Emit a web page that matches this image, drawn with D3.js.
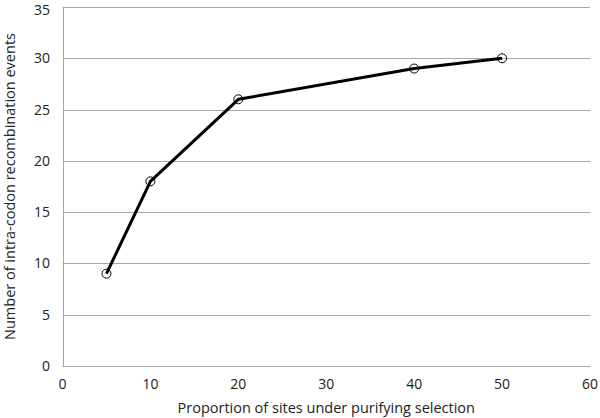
<!DOCTYPE html>
<html lang="en">
<head>
    <meta charset="UTF-8">
    <title>Intra-codon recombination</title>
    <script src="https://d3js.org/d3.v7.min.js"></script>
    <style>
        * { margin: 0; padding: 0; box-sizing: border-box; }
        html, body { width: 600px; height: 418px; background: #fff; overflow: clip; }
        svg { display: block; }
        text { font-family: "Open Sans", "Noto Sans", sans-serif; fill: #222; }
    </style>
</head>
<body>
<svg id="chart" width="600" height="418"></svg>
<script>
    const proportion = [5, 10, 20, 40, 50]
    const events = [9, 18, 26, 29, 30]
    const xTicks = [0, 10, 20, 30, 40, 50, 60]
    const yTicks = [0, 5, 10, 15, 20, 25, 30, 35]

    const xLabel = "Proportion of sites under purifying selection"
    const yLabel = "Number of intra-codon recombination events"

    const m = { left: 62.5, right: 10, top: 7, bottom: 52 }
    const W = 600, H = 418
    const svg = d3.select("#chart")

    const x = d3.scaleLinear().domain([0, 60]).range([m.left, W - m.right])
    const y = d3.scaleLinear().domain([0, 35]).range([H - m.bottom, m.top])

    // horizontal gridlines
    svg.append("g")
        .selectAll("line")
        .data(yTicks.filter(t => t > 0))
        .join("line")
        .attr("x1", x(0)).attr("x2", x(60))
        .attr("y1", d => Math.round(y(d)) + 0.5)
        .attr("y2", d => Math.round(y(d)) + 0.5)
        .attr("stroke", "#a6a6a6")
        .attr("stroke-width", 1)

    // axes lines
    svg.append("line")
        .attr("x1", x(0)).attr("x2", x(60))
        .attr("y1", Math.round(y(0)) + 0.5).attr("y2", Math.round(y(0)) + 0.5)
        .attr("stroke", "#a6a6a6")
    svg.append("line")
        .attr("x1", Math.round(x(0)) + 0.5).attr("x2", Math.round(x(0)) + 0.5)
        .attr("y1", y(0)).attr("y2", y(35))
        .attr("stroke", "#a6a6a6")

    // tick labels (top one nudged down so it stays inside the frame)
    svg.append("g")
        .selectAll("text")
        .data(yTicks)
        .join("text")
        .attr("x", 50)
        .attr("y", d => Math.max(y(d) + 5, 15))
        .attr("text-anchor", "end")
        .style("font-size", "14px")
        .text(d => d)
    svg.append("g")
        .selectAll("text")
        .data(xTicks)
        .join("text")
        .attr("x", d => x(d))
        .attr("y", 389)
        .attr("text-anchor", "middle")
        .style("font-size", "14px")
        .text(d => d)

    // axis titles
    svg.append("text")
        .attr("x", (x(0) + x(60)) / 2)
        .attr("y", 413)
        .attr("text-anchor", "middle")
        .style("font-size", "14.5px")
        .text(xLabel)
    svg.append("text")
        .attr("transform", `translate(15,${(y(0) + y(35)) / 2}) rotate(-90)`)
        .attr("text-anchor", "middle")
        .style("font-size", "14.5px")
        .text(yLabel)

    // series
    const pts = proportion.map((p, i) => [p, events[i]])
    svg.append("path")
        .datum(pts)
        .attr("fill", "none")
        .attr("stroke", "#000")
        .attr("stroke-width", 3)
        .attr("stroke-linejoin", "round")
        .attr("d", d3.line().x(d => x(d[0])).y(d => y(d[1])))
    svg.append("g")
        .selectAll("circle")
        .data(pts)
        .join("circle")
        .attr("cx", d => x(d[0]))
        .attr("cy", d => y(d[1]))
        .attr("r", 4.5)
        .attr("fill", "none")
        .attr("stroke", "#000")
        .attr("stroke-width", 1)
</script>
</body>
</html>
